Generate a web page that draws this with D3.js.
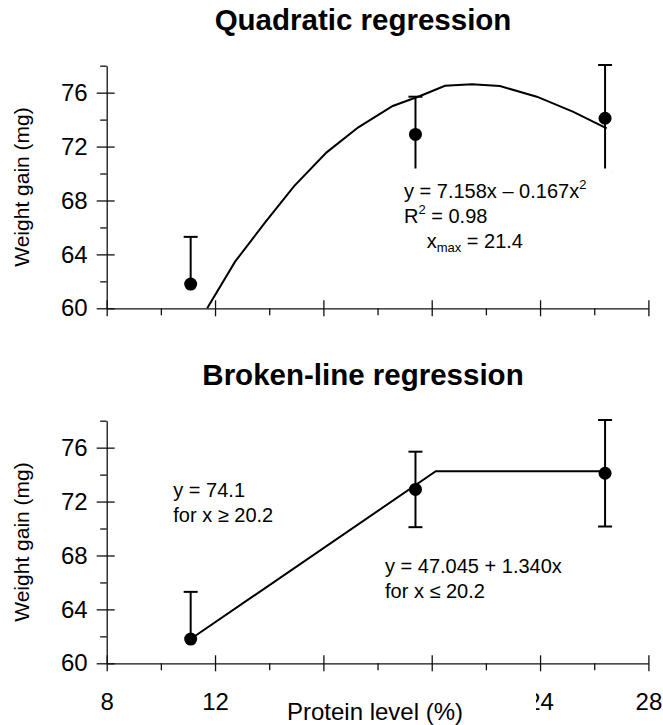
<!DOCTYPE html>
<html>
<head>
<meta charset="utf-8">
<script src="https://cdn.jsdelivr.net/npm/d3@7"></script>
<style>
  body { margin: 0; background: #fff; }
  text { font-family: "Liberation Sans", Arial, sans-serif; fill: #000; }
</style>
</head>
<body>
<svg id="chart" width="663" height="725"></svg>
<script>
// measured points (protein %, weight gain mg, error)
const proteinLevels = [11.1, 19.4, 26.4];
const weightGain = [61.8, 72.9, 74.1];
const weightGainErr = [3.5, 2.8, 3.95];

// quadratic fit
const quadX = [11.71, 12.74, 13.85, 14.92, 16.12, 17.29, 18.56, 19.57, 20.49, 21.48, 22.52, 23.88, 25.23, 26.46];
const quadY = [60.0, 63.46, 66.38, 69.07, 71.57, 73.43, 75.01, 75.75, 76.51, 76.62, 76.49, 75.70, 74.58, 73.35];

// broken-line fit
const brokenX = [11.1, 20.15, 26.4];
const brokenY = [61.8, 74.25, 74.25];

const xMajor = [8, 12, 16, 20, 24, 28];
const xMinor = [10, 14, 18, 22, 26];
const xHiddenLabels = [16, 20]; // covered by the axis title in the original
const yMajor = [60, 64, 68, 72, 76];
const yMinor = [62, 66, 70, 74, 78];

const svg = d3.select('#chart');
const left = 106.7, right = 648.4;
const x = d3.scaleLinear().domain([8, 28]).range([left, right]);

function drawPanel(opts) {
  const y = d3.scaleLinear().domain([60, 78]).range([opts.bottom, opts.bottom - 242.6]);
  const g = svg.append('g');

  // title
  g.append('text')
    .attr('x', 363).attr('y', opts.bottom - 278.3)
    .attr('text-anchor', 'middle')
    .style('font-size', '29.5px').style('font-weight', 'bold')
    .text(opts.title);

  // y axis
  const yAxis = g.append('g').attr('transform', `translate(${left},0)`)
    .call(d3.axisLeft(y).tickValues(yMajor).tickSize(10).tickSizeOuter(0).tickPadding(9));
  yAxis.selectAll('.tick line').attr('x1', 8);
  yAxis.selectAll('.tick text').style('font-size', '24px').attr('font-family', null);
  g.append('g').attr('transform', `translate(${left},0)`)
    .call(d3.axisLeft(y).tickValues(yMinor).tickSize(6.5).tickFormat(''))
    .select('.domain').remove();

  // x axis
  const fmt = d => (opts.xLabels && !xHiddenLabels.includes(d)) ? d3.format('d')(d) : '';
  const xAxis = g.append('g').attr('transform', `translate(0,${opts.bottom})`)
    .call(d3.axisBottom(x).tickValues(xMajor).tickSize(8).tickSizeOuter(0).tickPadding(22).tickFormat(fmt));
  xAxis.selectAll('.tick line').attr('y1', -8);
  xAxis.selectAll('.tick text').style('font-size', '24px').attr('font-family', null);
  g.append('g').attr('transform', `translate(0,${opts.bottom})`)
    .call(d3.axisBottom(x).tickValues(xMinor).tickSize(7).tickFormat(''))
    .select('.domain').remove();

  g.selectAll('.domain, .tick line').attr('stroke', '#111').attr('stroke-width', 1.3);

  // y label
  g.append('text')
    .attr('transform', `translate(28.7,${(opts.bottom + y(78)) / 2}) rotate(-90)`)
    .attr('text-anchor', 'middle')
    .style('font-size', '21px')
    .text('Weight gain (mg)');

  // fitted line
  const line = d3.line().x(d => x(d[0])).y(d => y(d[1]));
  g.append('path')
    .datum(d3.zip(opts.fitX, opts.fitY))
    .attr('d', line)
    .attr('fill', 'none').attr('stroke', '#000').attr('stroke-width', 2);

  // error bars; a half that leaves the plot is not drawn
  const pts = proteinLevels.map((p, i) => ({ p, w: weightGain[i], e: weightGainErr[i] }));
  const bars = g.append('g').attr('stroke', '#000').attr('stroke-width', 2);
  pts.forEach(d => {
    [d.w + d.e, d.w - d.e].forEach(end => {
      if (end < 60) return;
      bars.append('line').attr('x1', x(d.p)).attr('x2', x(d.p)).attr('y1', y(d.w)).attr('y2', y(end));
      bars.append('line').attr('x1', x(d.p) - 7).attr('x2', x(d.p) + 7).attr('y1', y(end)).attr('y2', y(end));
    });
  });
  g.selectAll('circle.pt').data(pts).join('circle')
    .attr('class', 'pt')
    .attr('cx', d => x(d.p)).attr('cy', d => y(d.w)).attr('r', 6.5)
    .attr('fill', '#000');

  return g;
}

// panel 1: quadratic
const quadPanel = drawPanel({ title: 'Quadratic regression', bottom: 308.3, fitX: quadX, fitY: quadY, xLabels: false });
quadPanel.append('rect').attr('x', 398).attr('y', 168.5).attr('width', 214).attr('height', 88).attr('fill', '#fff');
const eq1 = quadPanel.append('g').style('font-size', '20px');
const l1 = eq1.append('text').attr('x', 404).attr('y', 198.3).text('y = 7.158x \u2013 0.167x');
l1.append('tspan').attr('dy', -9).style('font-size', '13px').text('2');
const l2 = eq1.append('text').attr('x', 404).attr('y', 223.3).text('R');
l2.append('tspan').attr('dy', -9).style('font-size', '13px').text('2');
l2.append('tspan').attr('dy', 9).text(' = 0.98');
const l3 = eq1.append('text').attr('x', 426.7).attr('y', 248.3).text('x');
l3.append('tspan').attr('dy', 4).style('font-size', '13px').text('max');
l3.append('tspan').attr('dy', -4).text(' = 21.4');

// panel 2: broken line
const brokenPanel = drawPanel({ title: 'Broken-line regression', bottom: 663.3, fitX: brokenX, fitY: brokenY, xLabels: true });
const eq2 = brokenPanel.append('g').style('font-size', '20px');
eq2.append('text').attr('x', 173.3).attr('y', 496.7).text('y = 74.1');
eq2.append('text').attr('x', 173.3).attr('y', 521.7).text('for x \u2265 20.2');
eq2.append('text').attr('x', 385).attr('y', 573.3).text('y = 47.045 + 1.340x');
eq2.append('text').attr('x', 385).attr('y', 598).text('for x \u2264 20.2');

// axis title sits on a white box that clips the "24" label
brokenPanel.append('rect').attr('x', 262).attr('y', 680).attr('width', 274).attr('height', 45).attr('fill', '#fff');
brokenPanel.append('text').attr('x', 375).attr('y', 720)
  .attr('text-anchor', 'middle').style('font-size', '24px')
  .text('Protein level (%)');
</script>
</body>
</html>
